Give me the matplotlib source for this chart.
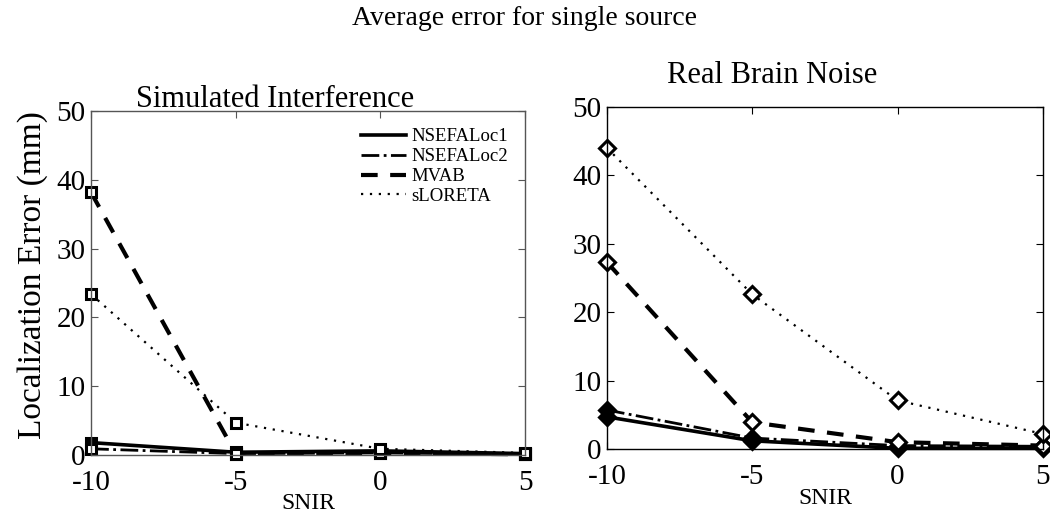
import matplotlib
matplotlib.use("Agg")
import matplotlib.pyplot as plt

plt.rcParams['font.family'] = ['Liberation Serif', 'DejaVu Serif']

snir = [-10, -5, 0, 5]
methods = ["NSEFALoc1", "NSEFALoc2", "MVAB", "sLORETA"]

# simulated interference
sim_loc1 = [1.8, 0.4, 0.6, 0.2]
sim_loc2 = [0.9, 0.2, 0.3, 0.1]
sim_mvab = [38.2, 0.2, 0.3, 0.1]
sim_slor = [23.4, 4.7, 0.9, 0.3]

# real brain noise
real_loc1 = [4.7, 1.2, 0.1, 0.1]
real_loc2 = [5.7, 1.6, 0.5, 0.4]
real_mvab = [27.3, 3.9, 1.0, 0.5]
real_slor = [44.0, 22.6, 7.1, 2.2]

styles = {
    "NSEFALoc1": dict(ls='-', lw=2.6),
    "NSEFALoc2": dict(ls='-.', lw=2.0),
    "MVAB": dict(ls='--', lw=3.0, dashes=(4, 3)),
    "sLORETA": dict(ls=':', lw=1.6, dashes=(1, 3)),
}

fig = plt.figure(figsize=(10.5, 5.24), dpi=100)
ax1 = fig.add_axes([0.0867, 0.1317, 0.4133, 0.656])
ax2 = fig.add_axes([0.578, 0.1431, 0.4153, 0.653])

sim = [sim_loc1, sim_loc2, sim_mvab, sim_slor]
real = [real_loc1, real_loc2, real_mvab, real_slor]

for name, vals in zip(methods, sim):
    st = dict(styles[name])
    face = 'black' if name == "NSEFALoc1" else 'white'
    ax1.plot(snir, vals, color='black', marker='s', ms=7, mew=2.2,
             mfc=face, mec='black', label=name, clip_on=False, **st)

for name, vals in zip(methods, real):
    st = dict(styles[name])
    face = 'black' if name in ("NSEFALoc1", "NSEFALoc2") else 'white'
    ax2.plot(snir, vals, color='black', marker='D', ms=8, mew=2.2,
             mfc=face, mec='black', clip_on=False, **st)

for ax, col in ((ax1, '#555555'), (ax2, 'black')):
    ax.set_xlim(-10, 5)
    ax.set_ylim(0, 50)
    ax.set_xticks(snir)
    ax.set_yticks([0, 10, 20, 30, 40, 50])
    ax.set_xticklabels(['-10', '-5', '0', '5'])
    ax.tick_params(direction='in', top=True, right=True, length=5,
                   labelsize=21, pad=4, color=col)
    ax.tick_params(axis='x', pad=11)
    for sp in ax.spines.values():
        sp.set_color(col)
        sp.set_linewidth(1.0)
    ax.set_xlabel("SNIR", fontsize=17, labelpad=-2)

ax1.set_ylabel("Localization Error (mm)", fontsize=24)
ax1.yaxis.set_label_coords(-0.10, 0.523)

leg = ax1.legend(loc='upper right', frameon=False, fontsize=13.5,
                 handlelength=2.4, handletextpad=0.3, labelspacing=0.15,
                 borderaxespad=0.5)
for h in leg.legend_handles:
    h.set_marker('')

fig.text(0.5, 0.965, "Average error for single source", ha='center',
         va='center', fontsize=20)
fig.text(0.262, 0.81, "Simulated Interference", ha='center', va='center',
         fontsize=22)
fig.text(0.735, 0.855, "Real Brain Noise", ha='center', va='center',
         fontsize=22)

fig.savefig("out.png", dpi=100)
